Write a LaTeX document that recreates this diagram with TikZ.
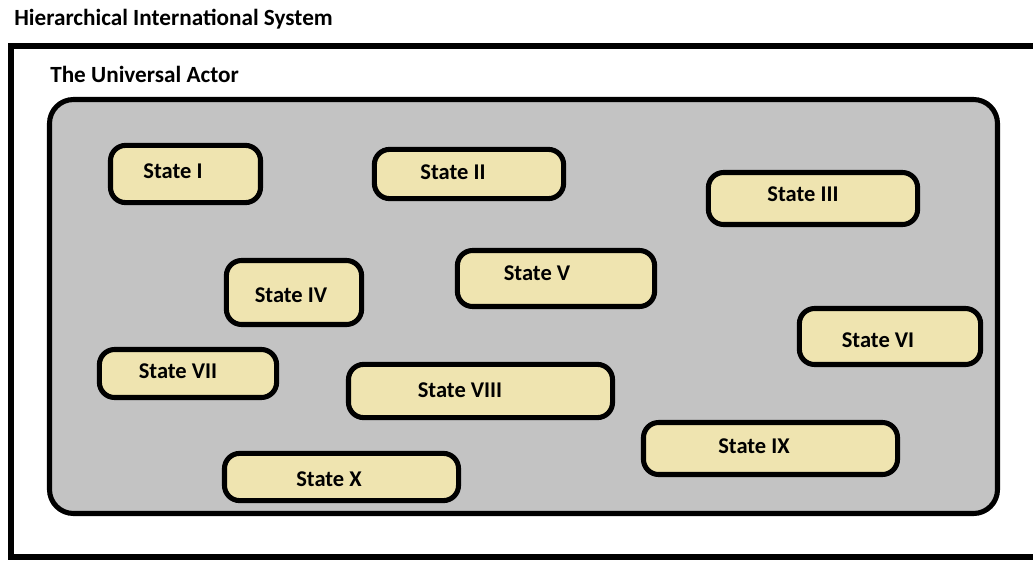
\documentclass[tikz,border=0pt]{standalone}
\usepackage{fontspec}
\setmainfont{Carlito}
\definecolor{actorgray}{HTML}{C3C3C3}
\definecolor{statetan}{HTML}{EFE4B0}
\tikzset{
  statebox/.style={draw=black, line width=3.6pt, fill=statetan, rounded corners=0.38cm, inner sep=0pt},
  statetext/.style={anchor=base, inner sep=0pt, font=\fontsize{16}{19}\selectfont\bfseries},
  headtext/.style={anchor=base west, inner sep=0pt, font=\fontsize{16.5}{19}\selectfont\bfseries}
}
\begin{document}
\begin{tikzpicture}[x=0.025cm, y=-0.025cm]
\useasboundingbox (0,0) rectangle (1033,560);
\clip (0,0) rectangle (1033,560);

% System frame
\node[headtext] (systitle) at (14,25) {Hierarchical International System};
\draw[line width=3.6pt] (1060,46) -- (11,46) -- (11,557) -- (1060,557);

% Universal actor
\node[headtext] (actortitle) at (50,82) {The Universal Actor};
\draw[line width=3.6pt, fill=actorgray, rounded corners=0.6cm] (49.5,99.5) rectangle (997.5,513.5);

% top row
\node[statebox, minimum width=3.75cm, minimum height=1.43cm] (stateI) at (185.5,174) {};
\node[statetext] (lblI) at (173,178) {State I};

\node[statebox, minimum width=4.73cm, minimum height=1.23cm] (stateII) at (469,174) {};
\node[statetext] (lblII) at (453,179) {State II};

\node[statebox, minimum width=5.23cm, minimum height=1.3cm] (stateIII) at (813,198.5) {};
\node[statetext] (lblIII) at (803,201) {State III};

% middle
\node[statebox, minimum width=3.38cm, minimum height=1.6cm] (stateIV) at (294,292.5) {};
\node[statetext] (lblIV) at (291,302) {State IV};

\node[statebox, minimum width=4.93cm, minimum height=1.4cm] (stateV) at (556,278.5) {};
\node[statetext] (lblV) at (537,280) {State V};

\node[statebox, minimum width=4.53cm, minimum height=1.4cm] (stateVI) at (890,336.5) {};
\node[statetext] (lblVI) at (878,347) {State VI};

\node[statebox, minimum width=4.43cm, minimum height=1.2cm] (stateVII) at (188,373.5) {};
\node[statetext] (lblVII) at (178,378) {State VII};

\node[statebox, minimum width=6.6cm, minimum height=1.33cm] (stateVIII) at (480.5,391) {};
\node[statetext] (lblVIII) at (460,397) {State VIII};

% bottom row
\node[statebox, minimum width=6.35cm, minimum height=1.3cm] (stateIX) at (770.5,448.5) {};
\node[statetext] (lblIX) at (754,453) {State IX};

\node[statebox, minimum width=5.85cm, minimum height=1.18cm] (stateX) at (341.5,477) {};
\node[statetext] (lblX) at (329,486) {State X};
\end{tikzpicture}
\end{document}
